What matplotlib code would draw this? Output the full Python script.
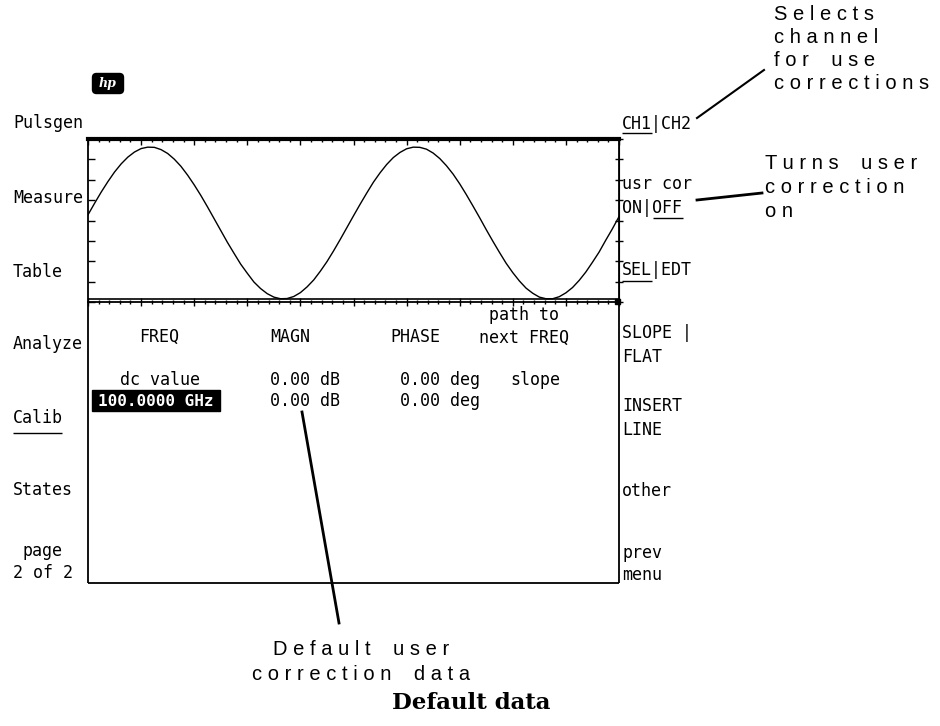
import numpy as np
import matplotlib.pyplot as plt
from matplotlib.patches import Rectangle, FancyBboxPatch

# Waveform (x in divisions 0..10, y in divisions 0..8)
wave_x = np.arange(0, 10.001, 0.125)
wave_y = [4.28, 4.85, 5.40, 5.91, 6.38, 6.78, 7.11, 7.36, 7.53, 7.60,
          7.59, 7.48, 7.29, 7.01, 6.66, 6.23, 5.75, 5.23, 4.67, 4.09,
          3.51, 2.93, 2.39, 1.86, 1.41, 0.98, 0.66, 0.41, 0.24, 0.16,
          0.17, 0.27, 0.46, 0.74, 1.08, 1.51, 1.98, 2.51, 3.07, 3.65,
          4.23, 4.80, 5.35, 5.88, 6.34, 6.75, 7.09, 7.34, 7.52, 7.60,
          7.59, 7.50, 7.31, 7.04, 6.69, 6.28, 5.80, 5.27, 4.71, 4.14,
          3.55, 2.98, 2.43, 1.90, 1.44, 1.03, 0.68, 0.43, 0.24, 0.16,
          0.16, 0.26, 0.45, 0.71, 1.06, 1.47, 1.95, 2.45, 3.03, 3.59,
          4.19]

# softkey labels
left_keys = ["Pulsgen", "Measure", "Table", "Analyze", "Calib", "States"]
left_base = [128, 203, 277, 349, 423, 495]
right_keys = ["CH1|CH2", "usr cor", "ON|OFF", "SEL|EDT", "SLOPE |", "FLAT",
              "INSERT", "LINE", "other", "prev", "menu"]
right_base = [129, 189, 213, 275, 338, 362, 411, 435, 496, 558, 580]

# correction table
col_heads = ["FREQ", "MAGN", "PHASE"]
freq_rows = ["dc value", "100.0000 GHz"]
magn_rows = ["0.00 dB", "0.00 dB"]
phase_rows = ["0.00 deg", "0.00 deg"]
path_rows = ["slope", ""]

mono = "DejaVu Sans Mono"
fs = 12

fig = plt.figure(figsize=(9.4, 7.26), dpi=100)
ax = fig.add_axes([0, 0, 1, 1])
ax.set_xlim(0, 940)
ax.set_ylim(726, 0)
ax.axis("off")

# waveform graticule
L, R, T, B = 88, 619, 139, 302
wax = fig.add_axes([L / 940, 1 - B / 726, (R - L) / 940, (B - T) / 726])
wax.set_xlim(0, 10)
wax.set_ylim(0, 8)
wax.plot(wave_x, wave_y, color="black", lw=1.0)
wax.set_facecolor("none")
wax.spines["top"].set_linewidth(3)
for s in ["left", "right", "bottom"]:
    wax.spines[s].set_linewidth(1.3)
wax.set_xticks(np.arange(0, 11, 1))
wax.set_xticks(np.arange(0, 10.01, 0.2), minor=True)
wax.set_yticks(np.arange(0, 9, 1))
wax.tick_params(axis="x", which="major", direction="inout", length=6, width=1, labelbottom=False)
wax.tick_params(axis="x", which="minor", direction="inout", length=3.5, width=1)
wax.tick_params(axis="y", which="major", direction="in", length=5, width=1, labelleft=False)
top = wax.secondary_xaxis("top")
top.set_xticks(np.arange(0, 11, 1))
top.set_xticks(np.arange(0, 10.01, 0.2), minor=True)
top.tick_params(which="major", direction="in", length=4, width=1, labeltop=False)
top.tick_params(which="minor", direction="in", length=2.2, width=1)
right = wax.secondary_yaxis("right")
right.set_yticks(np.arange(0, 9, 1))
right.tick_params(direction="inout", length=6, width=1, labelright=False)

# rest of the screen frame
ax.hlines(B - 3.5, L, R, color="black", lw=1.2)
ax.vlines([L, R], B, 583, color="black", lw=1.3)
ax.hlines(583, L, R, color="black", lw=1.3)
ax.add_patch(Rectangle((R - 4, B - 3), 5, 5, color="black"))

# hp logo
ax.add_patch(FancyBboxPatch((94, 75), 28, 17, boxstyle="round,pad=1.5,rounding_size=4",
                            fc="black", ec="black"))
ax.text(108, 84, "hp", color="white", fontsize=9, style="italic", weight="bold",
        ha="center", va="center", family="DejaVu Serif")

# softkeys
for lab, yb in zip(left_keys, left_base):
    ax.text(13, yb, lab, family=mono, fontsize=fs, va="baseline")
ax.hlines(433, 13, 62, color="black", lw=1)
ax.text(22, 556, "page", family=mono, fontsize=fs, va="baseline")
ax.text(13, 578, "2 of 2", family=mono, fontsize=fs, va="baseline")
for lab, yb in zip(right_keys, right_base):
    ax.text(622, yb, lab, family=mono, fontsize=fs, va="baseline")
ax.hlines(133, 622, 652, color="black", lw=1)
ax.hlines(218, 653, 683, color="black", lw=1)
ax.hlines(281, 622, 652, color="black", lw=1)

# table
for lab, xc in zip(col_heads, [159, 290, 415]):
    ax.text(xc, 342, lab, family=mono, fontsize=fs, ha="center", va="baseline")
ax.text(524, 320, "path to", family=mono, fontsize=fs, ha="center", va="baseline")
ax.text(524, 343, "next FREQ", family=mono, fontsize=fs, ha="center", va="baseline")
row_base = [385, 406]
ax.add_patch(Rectangle((92, 390), 128, 21, color="black"))
for i, yb in enumerate(row_base):
    if i == 1:
        ax.text(156, yb, freq_rows[i], family=mono, fontsize=fs - 0.5, ha="center",
                va="baseline", color="white", weight="bold")
    else:
        ax.text(160, yb, freq_rows[i], family=mono, fontsize=fs, ha="center", va="baseline")
    ax.text(270, yb, magn_rows[i], family=mono, fontsize=fs, va="baseline")
    ax.text(400, yb, phase_rows[i], family=mono, fontsize=fs, va="baseline")
    ax.text(510, yb, path_rows[i], family=mono, fontsize=fs, va="baseline")


# callouts
def spaced(s):
    return "    ".join(" ".join(w) for w in s.split())


cfont = dict(family="Liberation Sans", fontsize=14.5, va="baseline")
for txt, yb in zip(["Selects", "channel", "for use", "corrections"], [20, 43, 66, 89]):
    ax.text(774, yb, spaced(txt), **cfont)
for txt, yb in zip(["Turns user", "correction", "on"], [169, 193, 217]):
    ax.text(765, yb, spaced(txt), **cfont)
for txt, yb in zip(["Default user", "correction data"], [655, 680]):
    ax.text(361, yb, spaced(txt), ha="center", **cfont)
ax.plot([697, 764], [118, 70], color="black", lw=1.5)
ax.plot([697, 762], [200, 193], color="black", lw=2)
ax.plot([302, 339], [412, 623], color="black", lw=2)

ax.text(471, 709, "Default data", family="DejaVu Serif", weight="bold", fontsize=16.5,
        ha="center", va="baseline")

fig.savefig("out.png", dpi=100, facecolor="white")
